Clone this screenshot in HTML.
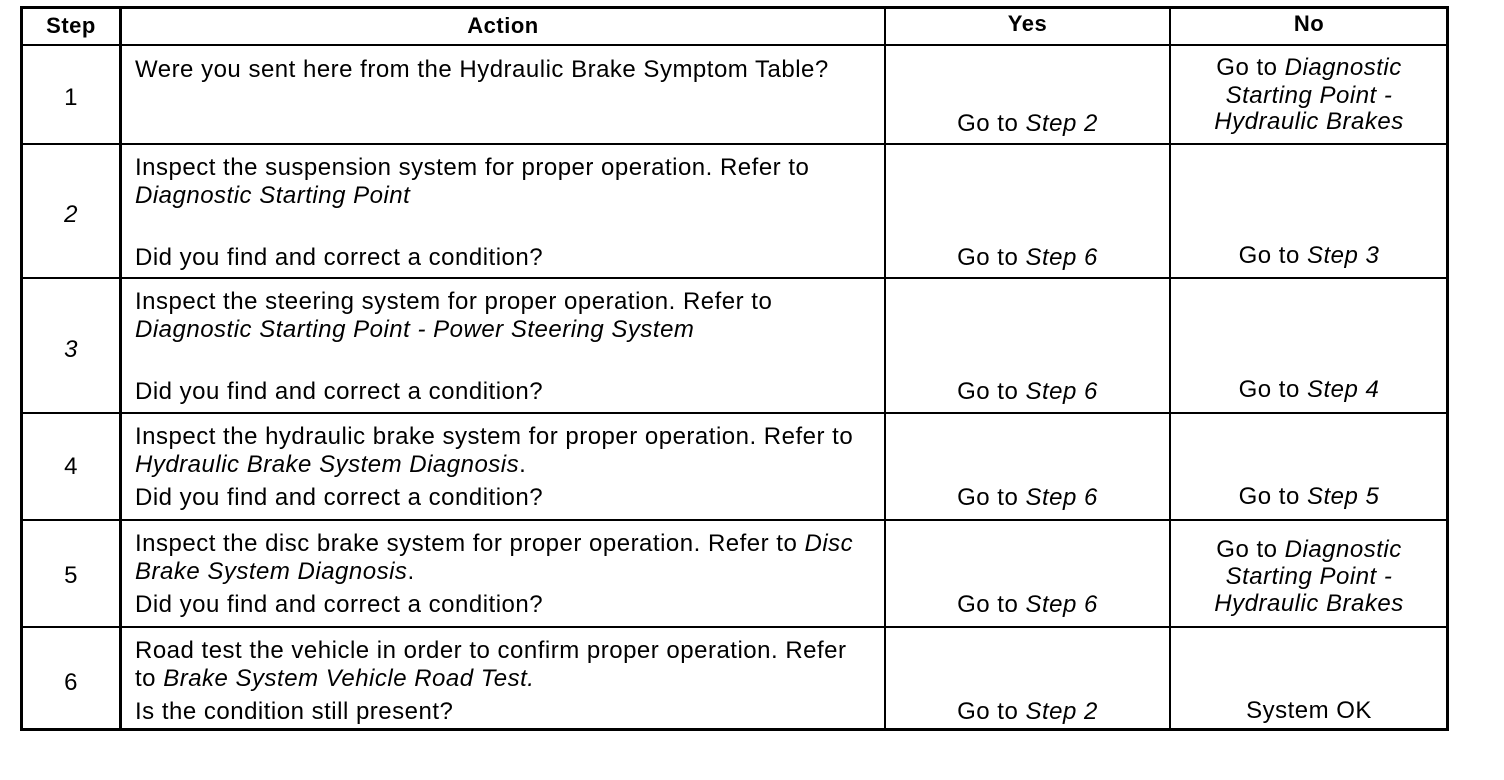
<!DOCTYPE html>
<html><head><style>
body{margin:0;width:1504px;height:780px;background:#fff;position:relative;overflow:hidden;font-family:"Liberation Sans",Arial,sans-serif;color:#000}
.l{position:absolute;background:#000}
.t{position:absolute;font-size:24px;line-height:28px;white-space:nowrap;letter-spacing:0.5px}
.c{text-align:center}
i{font-style:italic}
b{font-weight:bold;font-size:22px}
</style></head><body>
<div class="l" style="left:20px;top:6px;width:3px;height:725px"></div>
<div class="l" style="left:119px;top:6px;width:3px;height:725px"></div>
<div class="l" style="left:884px;top:6px;width:2px;height:725px"></div>
<div class="l" style="left:1169px;top:6px;width:2px;height:725px"></div>
<div class="l" style="left:1446px;top:6px;width:3px;height:725px"></div>
<div class="l" style="left:20px;top:6px;width:1429px;height:3px"></div>
<div class="l" style="left:20px;top:44px;width:1429px;height:2px"></div>
<div class="l" style="left:20px;top:143px;width:1429px;height:2px"></div>
<div class="l" style="left:20px;top:277px;width:1429px;height:2px"></div>
<div class="l" style="left:20px;top:412px;width:1429px;height:2px"></div>
<div class="l" style="left:20px;top:519px;width:1429px;height:2px"></div>
<div class="l" style="left:20px;top:626px;width:1429px;height:2px"></div>
<div class="l" style="left:20px;top:728px;width:1429px;height:3px"></div>

<div class="t c" style="left:22px;width:98px;top:12px"><b>Step</b></div>
<div class="t c" style="left:122px;width:762px;top:12px"><b>Action</b></div>
<div class="t c" style="left:886px;width:283px;top:10px"><b>Yes</b></div>
<div class="t c" style="left:1171px;width:276px;top:10px"><b>No</b></div>

<div class="t c" style="left:22px;width:98px;top:84px">1</div>
<div class="t c" style="left:22px;width:98px;top:201px"><i>2</i></div>
<div class="t c" style="left:22px;width:98px;top:336px"><i>3</i></div>
<div class="t c" style="left:22px;width:98px;top:453px">4</div>
<div class="t c" style="left:22px;width:98px;top:562px">5</div>
<div class="t c" style="left:22px;width:98px;top:669px">6</div>

<div class="t" style="left:135px;top:56px">Were you sent here from the Hydraulic Brake Symptom Table?</div>
<div class="t" style="left:135px;top:154px">Inspect the suspension system for proper operation. Refer to</div>
<div class="t" style="left:135px;top:182px"><i>Diagnostic Starting Point</i></div>
<div class="t" style="left:135px;top:244px">Did you find and correct a condition?</div>
<div class="t" style="left:135px;top:288px">Inspect the steering system for proper operation. Refer to</div>
<div class="t" style="left:135px;top:316px"><i>Diagnostic Starting Point - Power Steering System</i></div>
<div class="t" style="left:135px;top:378px">Did you find and correct a condition?</div>
<div class="t" style="left:135px;top:423px">Inspect the hydraulic brake system for proper operation. Refer to</div>
<div class="t" style="left:135px;top:451px"><i>Hydraulic Brake System Diagnosis</i>.</div>
<div class="t" style="left:135px;top:484px">Did you find and correct a condition?</div>
<div class="t" style="left:135px;top:530px">Inspect the disc brake system for proper operation. Refer to <i>Disc</i></div>
<div class="t" style="left:135px;top:558px"><i>Brake System Diagnosis</i>.</div>
<div class="t" style="left:135px;top:591px">Did you find and correct a condition?</div>
<div class="t" style="left:135px;top:637px">Road test the vehicle in order to confirm proper operation. Refer</div>
<div class="t" style="left:135px;top:665px">to <i>Brake System Vehicle Road Test.</i></div>
<div class="t" style="left:135px;top:698px">Is the condition still present?</div>

<div class="t c" style="left:886px;width:283px;top:110px">Go to <i>Step 2</i></div>
<div class="t c" style="left:886px;width:283px;top:244px">Go to <i>Step 6</i></div>
<div class="t c" style="left:886px;width:283px;top:378px">Go to <i>Step 6</i></div>
<div class="t c" style="left:886px;width:283px;top:484px">Go to <i>Step 6</i></div>
<div class="t c" style="left:886px;width:283px;top:591px">Go to <i>Step 6</i></div>
<div class="t c" style="left:886px;width:283px;top:698px">Go to <i>Step 2</i></div>

<div class="t c" style="left:1171px;width:276px;top:54px">Go to <i>Diagnostic</i></div>
<div class="t c" style="left:1171px;width:276px;top:82px"><i>Starting Point -</i></div>
<div class="t c" style="left:1171px;width:276px;top:108px"><i>Hydraulic Brakes</i></div>
<div class="t c" style="left:1171px;width:276px;top:242px">Go to <i>Step 3</i></div>
<div class="t c" style="left:1171px;width:276px;top:376px">Go to <i>Step 4</i></div>
<div class="t c" style="left:1171px;width:276px;top:483px">Go to <i>Step 5</i></div>
<div class="t c" style="left:1171px;width:276px;top:536px">Go to <i>Diagnostic</i></div>
<div class="t c" style="left:1171px;width:276px;top:563px"><i>Starting Point -</i></div>
<div class="t c" style="left:1171px;width:276px;top:590px"><i>Hydraulic Brakes</i></div>
<div class="t c" style="left:1171px;width:276px;top:697px">System OK</div>
</body></html>
